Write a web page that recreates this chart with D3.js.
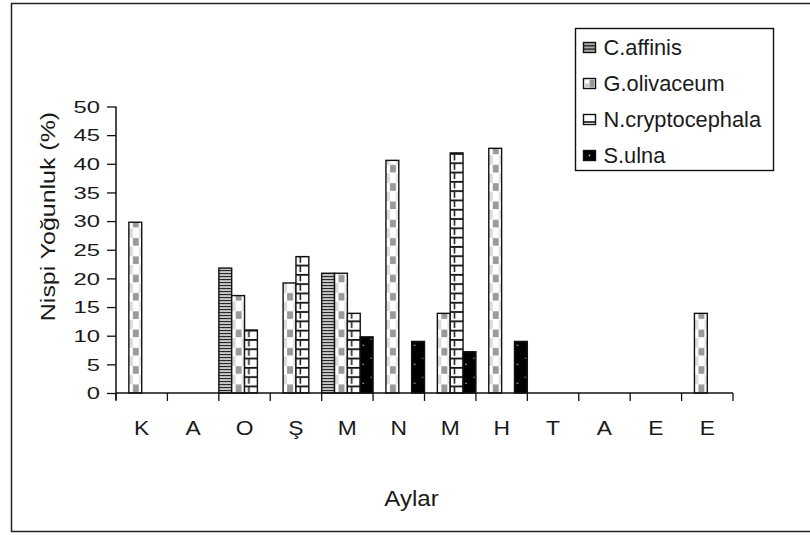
<!DOCTYPE html>
<html>
<head>
<meta charset="utf-8">
<script src="https://cdn.jsdelivr.net/npm/d3@7/dist/d3.min.js"></script>
<style>
  html, body { margin: 0; padding: 0; background: #fff; }
  svg text { font-family: "Liberation Sans", Arial, sans-serif; fill: #1a1a1a; }
</style>
</head>
<body>
<svg id="chart" width="810" height="535"></svg>
<script>
// Month initials along the x axis (Kasım ... Ekim)
const months = ["K", "A", "O", "Ş", "M", "N", "M", "H", "T", "A", "E", "E"];

// Series names, in bar order within each month
const species = ["C.affinis", "G.olivaceum", "N.cryptocephala", "S.ulna"];

// Relative abundance (%) per month for each species
const cAffinis       = [0, 0, 21.8, 0, 20.9, 0, 0, 0, 0, 0, 0, 0];
const gOlivaceum     = [29.8, 0, 17, 19.2, 20.9, 40.6, 13.9, 42.7, 0, 0, 0, 13.9];
const nCryptocephala = [0, 0, 11, 23.8, 13.9, 0, 41.9, 0, 0, 0, 0, 0];
const sUlna          = [0, 0, 0, 0, 9.8, 9, 7.2, 9, 0, 0, 0, 0];

const yTicks = [0, 5, 10, 15, 20, 25, 30, 35, 40, 45, 50];

const seriesValues = [cAffinis, gOlivaceum, nCryptocephala, sUlna];

const svg = d3.select("#chart");

// outer frame
svg.append("rect")
  .attr("x", 11.5).attr("y", 3.5)
  .attr("width", 805).attr("height", 528)
  .attr("fill", "none").attr("stroke", "#222").attr("stroke-width", 1.5);

const plot = { left: 116, right: 733, top: 106.5, bottom: 393 };
const g = svg.append("g").attr("transform", `translate(${plot.left},${plot.top})`);
const W = plot.right - plot.left, H = plot.bottom - plot.top;

const x = d3.scaleBand().domain(d3.range(months.length)).range([0, W]).paddingInner(0).paddingOuter(0);
const xs = d3.scaleBand().domain(species).range([0, x.bandwidth()]).padding(0);
const y = d3.scaleLinear().domain([0, 50]).range([H, 0]);

const sw = xs.bandwidth();

// fill patterns, tiled from the plot origin so every bar starts on a tile edge
const defs = svg.append("defs");

const pC = defs.append("pattern").attr("id", "pat-c")
  .attr("patternUnits", "userSpaceOnUse")
  .attr("x", 0).attr("y", H).attr("width", sw).attr("height", 3);
pC.append("rect").attr("width", sw).attr("height", 3).attr("fill", "#c6c6c6");
pC.append("rect").attr("y", 0).attr("width", sw).attr("height", 1.1).attr("fill", "#2a2a2a");

const gp = 18.3;
const pG = defs.append("pattern").attr("id", "pat-g")
  .attr("patternUnits", "userSpaceOnUse")
  .attr("x", 0).attr("y", H).attr("width", sw).attr("height", gp);
pG.append("rect").attr("width", sw).attr("height", gp).attr("fill", "#fff");
pG.append("rect").attr("x", 0).attr("y", 0).attr("width", 4).attr("height", 9.5).attr("fill", "#dcdcdc");
pG.append("rect").attr("x", 10).attr("y", 0).attr("width", sw - 10).attr("height", 9.5).attr("fill", "#e6e6e6");
pG.append("rect").attr("x", 4).attr("y", 9.8).attr("width", 6).attr("height", 7.6).attr("fill", "#9a9a9a");

const np = 9.3;
const pN = defs.append("pattern").attr("id", "pat-n")
  .attr("patternUnits", "userSpaceOnUse")
  .attr("x", 0).attr("y", H).attr("width", sw).attr("height", np);
pN.append("rect").attr("width", sw).attr("height", np).attr("fill", "#fff");
pN.append("rect").attr("x", 0).attr("y", 1.8).attr("width", sw).attr("height", 1.8).attr("fill", "#111");
pN.append("rect").attr("x", 3.6).attr("y", 3.6).attr("width", 1.5).attr("height", np - 1.8).attr("fill", "#111");

const sp = 19;
const pS = defs.append("pattern").attr("id", "pat-s")
  .attr("patternUnits", "userSpaceOnUse")
  .attr("x", 0).attr("y", H).attr("width", sw).attr("height", sp);
pS.append("rect").attr("width", sw).attr("height", sp).attr("fill", "#000");
pS.append("circle").attr("cx", 3).attr("cy", 9.3).attr("r", 0.9).attr("fill", "#9a9a9a");
pS.append("circle").attr("cx", 11).attr("cy", 3.3).attr("r", 0.8).attr("fill", "#8a8a8a");

const fills = ["url(#pat-c)", "url(#pat-g)", "url(#pat-n)", "url(#pat-s)"];

// bars
const bars = [];
seriesValues.forEach((vals, si) => {
  vals.forEach((v, mi) => { if (v > 0) bars.push({ si, mi, v }); });
});

g.selectAll("rect.bar").data(bars).join("rect")
  .attr("class", "bar")
  .attr("x", d => x(d.mi) + xs(species[d.si]))
  .attr("y", d => y(d.v))
  .attr("width", sw)
  .attr("height", d => H - y(d.v))
  .attr("fill", d => fills[d.si])
  .attr("stroke", "#111")
  .attr("stroke-width", 1.4);

// y axis
const yAxis = g.append("g").call(d3.axisLeft(y).tickValues(yTicks).tickSize(9).tickFormat(""));
yAxis.select(".domain").attr("d", `M0,${H + 7}V0`).attr("stroke", "#111").attr("stroke-width", 1.5);
yAxis.selectAll(".tick line").attr("stroke", "#111").attr("stroke-width", 1.3);

g.selectAll("text.ytl").data(yTicks).join("text")
  .attr("class", "ytl")
  .attr("transform", d => `translate(-16,${y(d) + 6.3}) scale(1.4,1)`)
  .attr("text-anchor", "end")
  .attr("font-size", 17)
  .text(d => d);

// x axis with ticks on the month boundaries
const bounds = d3.range(months.length + 1).map(i => i * x.step());
const xAxis = g.append("g").attr("transform", `translate(0,${H})`);
xAxis.append("line").attr("x1", 0).attr("x2", W).attr("stroke", "#111").attr("stroke-width", 1.5);
xAxis.selectAll("line.tk").data(bounds).join("line")
  .attr("class", "tk")
  .attr("x1", d => d).attr("x2", d => d).attr("y1", 0).attr("y2", 8)
  .attr("stroke", "#111").attr("stroke-width", 1.3);

xAxis.selectAll("text.xtl").data(months).join("text")
  .attr("class", "xtl")
  .attr("transform", (d, i) => `translate(${x(i) + x.bandwidth() / 2},${41.5}) scale(1.17,1)`)
  .attr("text-anchor", "middle")
  .attr("font-size", 19.5)
  .text(d => d);

// axis titles
svg.append("text")
  .attr("transform", `translate(411.5,506) scale(1.12,1)`)
  .attr("text-anchor", "middle")
  .attr("font-size", 21.5)
  .text("Aylar");

svg.append("text")
  .attr("transform", `translate(55,216.5) rotate(-90) scale(1.28,1)`)
  .attr("text-anchor", "middle")
  .attr("font-size", 19.5)
  .text("Nispi Yoğunluk (%)");

// legend
const lg = svg.append("g");
lg.append("rect")
  .attr("x", 575.5).attr("y", 28.5).attr("width", 198).attr("height", 142)
  .attr("fill", "#fff").attr("stroke", "#111").attr("stroke-width", 1.4);

const items = lg.selectAll("g.item").data(species).join("g")
  .attr("class", "item")
  .attr("transform", (d, i) => `translate(583,${55 + i * 36})`);

items.append("text")
  .attr("x", 20.5).attr("y", 0)
  .attr("font-size", 21.8)
  .text(d => d);

// small swatches
items.each(function (d, i) {
  const s = d3.select(this);
  const bx = 0.5, by = -12.5, bw = 12, bh = 10;
  if (i === 0) {
    s.append("rect").attr("x", bx).attr("y", by).attr("width", bw).attr("height", bh)
      .attr("fill", "#aaa").attr("stroke", "#111").attr("stroke-width", 1.4);
    [3.3, 6.6].forEach(o => s.append("line").attr("x1", bx).attr("x2", bx + bw)
      .attr("y1", by + o).attr("y2", by + o).attr("stroke", "#111").attr("stroke-width", 1.2));
  } else if (i === 1) {
    s.append("rect").attr("x", bx).attr("y", by).attr("width", bw).attr("height", bh)
      .attr("fill", "#fff").attr("stroke", "#111").attr("stroke-width", 1.4);
    s.append("rect").attr("x", bx + 6).attr("y", by + 1).attr("width", 5).attr("height", 8).attr("fill", "#999");
    s.append("rect").attr("x", bx + 1).attr("y", by + 5).attr("width", 5).attr("height", 4).attr("fill", "#ccc");
  } else if (i === 2) {
    s.append("rect").attr("x", bx).attr("y", by).attr("width", bw).attr("height", bh)
      .attr("fill", "#fff").attr("stroke", "#111").attr("stroke-width", 1.4);
    s.append("line").attr("x1", bx).attr("x2", bx + bw).attr("y1", by + 7.5).attr("y2", by + 7.5)
      .attr("stroke", "#111").attr("stroke-width", 1.6);
  } else {
    s.append("rect").attr("x", bx).attr("y", by).attr("width", bw).attr("height", bh)
      .attr("fill", "#000").attr("stroke", "#111").attr("stroke-width", 1.4);
    s.append("circle").attr("cx", bx + 6).attr("cy", by + 5).attr("r", 0.9).attr("fill", "#bbb");
  }
});
</script>
</body>
</html>
